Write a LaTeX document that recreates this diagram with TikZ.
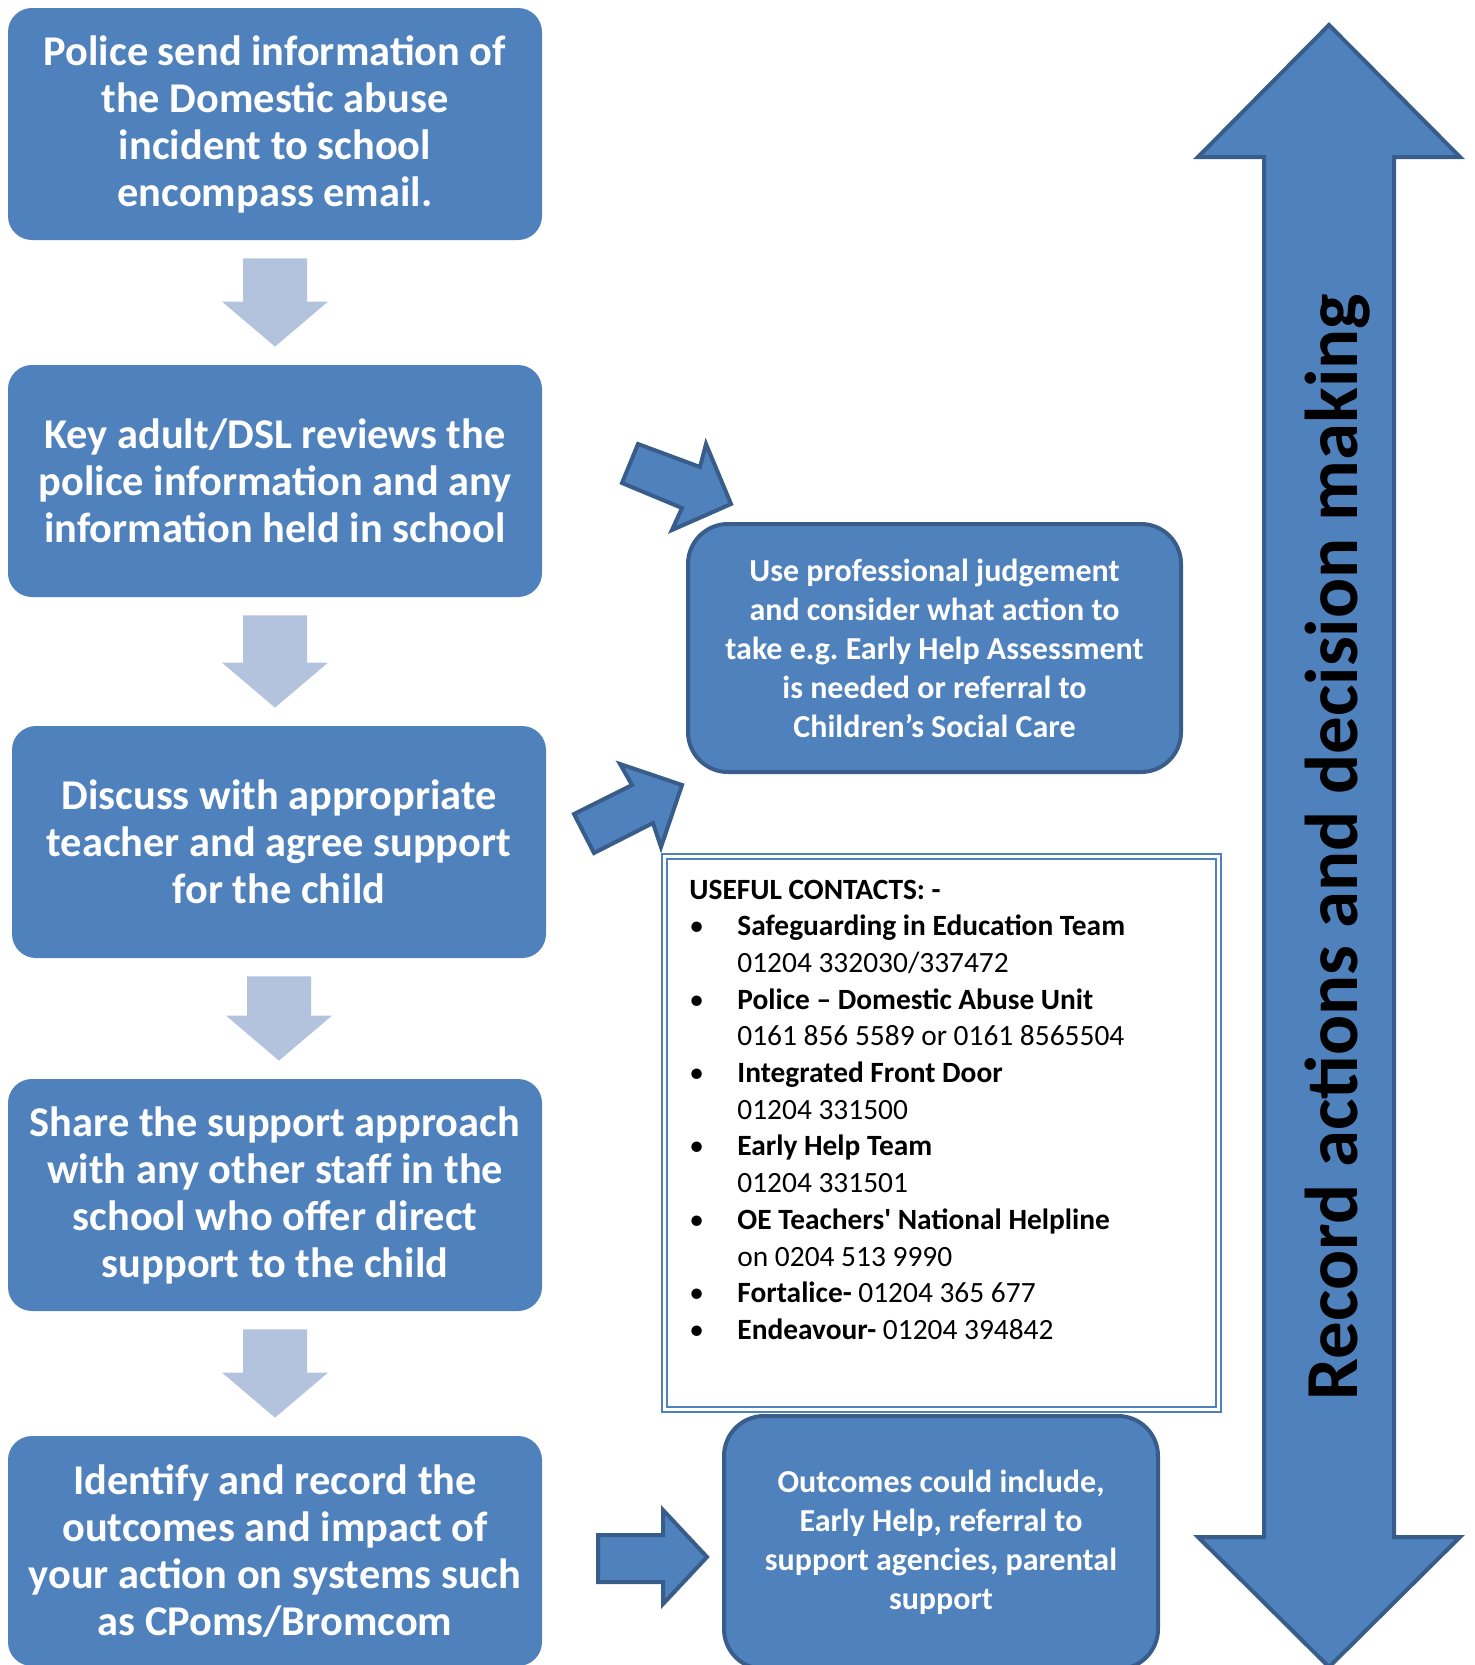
\documentclass[tikz,border=0pt]{standalone}
\usepackage{fontspec}
\setmainfont{Carlito}[Ligatures=TeXOff]
\usepackage{array}
\usetikzlibrary{calc}
\definecolor{boxblue}{HTML}{4F81BD}
\definecolor{edgeblue}{HTML}{385D8A}
\definecolor{paleblue}{HTML}{B4C3DD}
\frenchspacing
\tikzset{
  stepbox/.style={rectangle, rounded corners=12pt, fill=boxblue, text=white,
    minimum width=267pt, minimum height=116pt, inner sep=0pt, align=center,
    font=\bfseries\fontsize{21.2}{23.5}\selectfont},
  sidebox/.style={rectangle, rounded corners=20pt, fill=boxblue, draw=edgeblue,
    line width=2pt, text=white, inner sep=0pt, align=center,
    font=\bfseries\fontsize{16}{19.5}\selectfont},
  flowarrow/.style={fill=paleblue},
  blockarrow/.style={fill=boxblue, draw=edgeblue, line width=2pt, line join=miter},
}

\begin{document}
\begin{tikzpicture}[x=0.5pt,y=-0.5pt]
  \useasboundingbox (0,0) rectangle (1474,1665);

  % left column
  \node[stepbox] (police) at (275,124) {Police send information of\\the Domestic abuse\\incident to school\\encompass email.};
  \node[stepbox] (review) at (275,481) {Key adult/DSL reviews the\\police information and any\\information held in school};
  \node[stepbox] (discuss) at (279,842) {Discuss with appropriate\\teacher and agree support\\for the child};
  \node[stepbox] (share) at (275,1195) {Share the support approach\\with any other staff in the\\school who offer direct\\support to the child};
  \node[stepbox, minimum height=115pt] (record) at (275,1551) {Identify and record the\\outcomes and impact of\\your action on systems such\\as CPoms/Bromcom};

  \foreach \a/\b in {police/review,review/discuss,discuss/share,share/record}
    \fill[flowarrow] let \p1=(\a.south), \p2=(\b.north) in
      (\x1-16pt,\y1-9pt) -- (\x1+16pt,\y1-9pt) -- (\x1+16pt,\y2+31.5pt)
      -- (\x1+26.5pt,\y2+31.5pt) -- (\x1,\y2+9pt) -- (\x1-26.5pt,\y2+31.5pt)
      -- (\x1-16pt,\y2+31.5pt) -- cycle;

  % block arrows to the right
  \draw[blockarrow] (638,444) -- (700,467) -- (706,444) -- (731,504) -- (672,530) -- (682,508) -- (622,483) -- cycle;
  \draw[blockarrow] (574,814) -- (632,785) -- (620,764) -- (682,785) -- (661,847) -- (653,823) -- (594,853) -- cycle;
  \draw[blockarrow] (598,1535) -- (663,1535) -- (663,1510) -- (707,1557) -- (663,1604) -- (663,1582) -- (598,1582) -- cycle;

  % right column
  \node[sidebox, minimum width=246.5pt, minimum height=124pt] (judge) at (934.5,648) {Use professional judgement\\and consider what action to\\take e.g. Early Help Assessment\\is needed or referral to\\Children’s Social Care};

  \node[draw=boxblue, double, double distance=1.5pt, line width=1pt, minimum width=277pt, minimum height=276.5pt, inner sep=0pt] (frame) at (941,1132.5) {};
  \node[anchor=base west, inner sep=0pt, font=\fontsize{14.7}{18.35}\selectfont] (contacts) at (689,899) {%
    \begin{tabular}[t]{@{}p{24pt}@{}l@{}}
      \multicolumn{2}{@{}l@{}}{\bfseries USEFUL CONTACTS: -}\\
      \textbullet & \bfseries Safeguarding in Education Team\\
       & 01204 332030/337472\\
      \textbullet & \bfseries Police – Domestic Abuse Unit\\
       & 0161 856 5589 or 0161 8565504\\
      \textbullet & \bfseries Integrated Front Door\\
       & 01204 331500\\
      \textbullet & \bfseries Early Help Team\\
       & 01204 331501\\
      \textbullet & \bfseries OE Teachers' National Helpline\\
       & on 0204 513 9990\\
      \textbullet & \textbf{Fortalice-} 01204 365 677\\
      \textbullet & \textbf{Endeavour-} 01204 394842
    \end{tabular}};

  \node[sidebox, minimum width=217pt, minimum height=126.5pt] (outcome) at (941,1542.5) {Outcomes could include,\\Early Help, referral to\\support agencies, parental\\support};

  % double headed arrow
  \draw[blockarrow] (1329,25) -- (1460,157) -- (1394,157) -- (1394,1537) -- (1460,1537) -- (1329,1667)
    -- (1198,1537) -- (1264,1537) -- (1264,157) -- (1198,157) -- cycle;
  \node[rotate=90, inner sep=0pt, font=\bfseries\fontsize{37.4}{40}\selectfont] (making) at (1338,847) {Record actions and decision making};
\end{tikzpicture}
\end{document}
